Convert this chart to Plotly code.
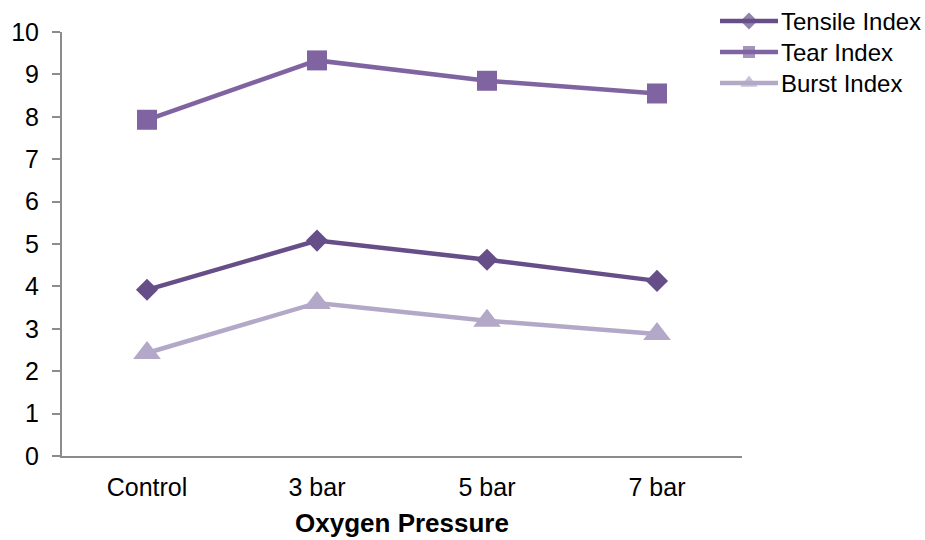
import plotly.graph_objects as go

# Paper strength indices versus oxygen pressure
pressures = ["Control", "3 bar", "5 bar", "7 bar"]
tensile_index = [3.92, 5.08, 4.63, 4.13]
tear_index = [7.93, 9.33, 8.85, 8.55]
burst_index = [2.43, 3.61, 3.19, 2.88]

series = [
    ("Tensile Index", tensile_index, "#664e88", "diamond", 17),
    ("Tear Index", tear_index, "#8064a2", "square", 20),
    ("Burst Index", burst_index, "#b4a8c8", "triangle-up", 24),
]

W, H = 925, 540
M_L, M_B = 62, 84
PLOT_R, PLOT_T = 742, 32
paper_w = W - M_L
paper_h = H - M_B

font_family = "Liberation Sans, Arial, sans-serif"

fig = go.Figure()
for name, vals, color, symbol, size in series:
    fig.add_trace(go.Scatter(
        x=list(range(len(pressures))), y=vals, name=name,
        mode="lines+markers", showlegend=False,
        line=dict(color=color, width=4.5),
        marker=dict(symbol=symbol, size=size, color=color, line=dict(width=0)),
    ))

# Legend keys drawn on their own hidden axes (row = pixel offset from top)
legend_rows = [21, 52, 83]
legend_sizes = {"diamond": 13, "square": 12, "triangle-up": 15}
for (name, vals, color, symbol, size), row in zip(series, legend_rows):
    fig.add_trace(go.Scatter(
        x=[0, 0.5, 1], y=[row, row, row], xaxis="x2", yaxis="y2",
        mode="lines+markers", showlegend=False, hoverinfo="skip",
        line=dict(color=color, width=4.5),
        marker=dict(symbol=symbol, size=[0, legend_sizes[symbol], 0],
                    color=color, line=dict(width=0)),
    ))
    fig.add_annotation(
        x=(779 - M_L) / paper_w, xref="paper", y=row, yref="y2",
        text=name, showarrow=False, xanchor="left", yanchor="middle",
        font=dict(size=24, color="#000000", family=font_family),
    )

fig.update_layout(
    width=W, height=H,
    margin=dict(l=M_L, r=0, t=0, b=M_B, autoexpand=False),
    paper_bgcolor="white", plot_bgcolor="rgba(0,0,0,0)",
    font=dict(family=font_family, color="#000000", size=26),
    showlegend=False,
    xaxis=dict(
        domain=[0, (PLOT_R - M_L) / paper_w],
        range=[-0.5, 3.5], tickmode="array",
        tickvals=list(range(len(pressures))), ticktext=pressures,
        showgrid=False, zeroline=False, showline=True,
        linecolor="#8c8c8c", linewidth=2, ticks="",
        tickfont=dict(size=25), ticklabelstandoff=8,
        title=dict(text="<b>Oxygen Pressure</b>", font=dict(size=26), standoff=14),
    ),
    yaxis=dict(
        domain=[0, (paper_h - PLOT_T) / paper_h],
        range=[0, 10], dtick=1, showgrid=False, zeroline=False,
        showline=True, linecolor="#8c8c8c", linewidth=2,
        ticks="outside", ticklen=8, tickwidth=2, tickcolor="#8c8c8c",
        tickfont=dict(size=25), ticklabelstandoff=8,
    ),
    xaxis2=dict(
        domain=[(720 - M_L) / paper_w, (778 - M_L) / paper_w],
        range=[0, 1], visible=False, fixedrange=True,
    ),
    yaxis2=dict(
        domain=[0, 1], range=[paper_h, 0], visible=False, fixedrange=True,
        anchor="x2",
    ),
)

fig.write_html("out.html")
